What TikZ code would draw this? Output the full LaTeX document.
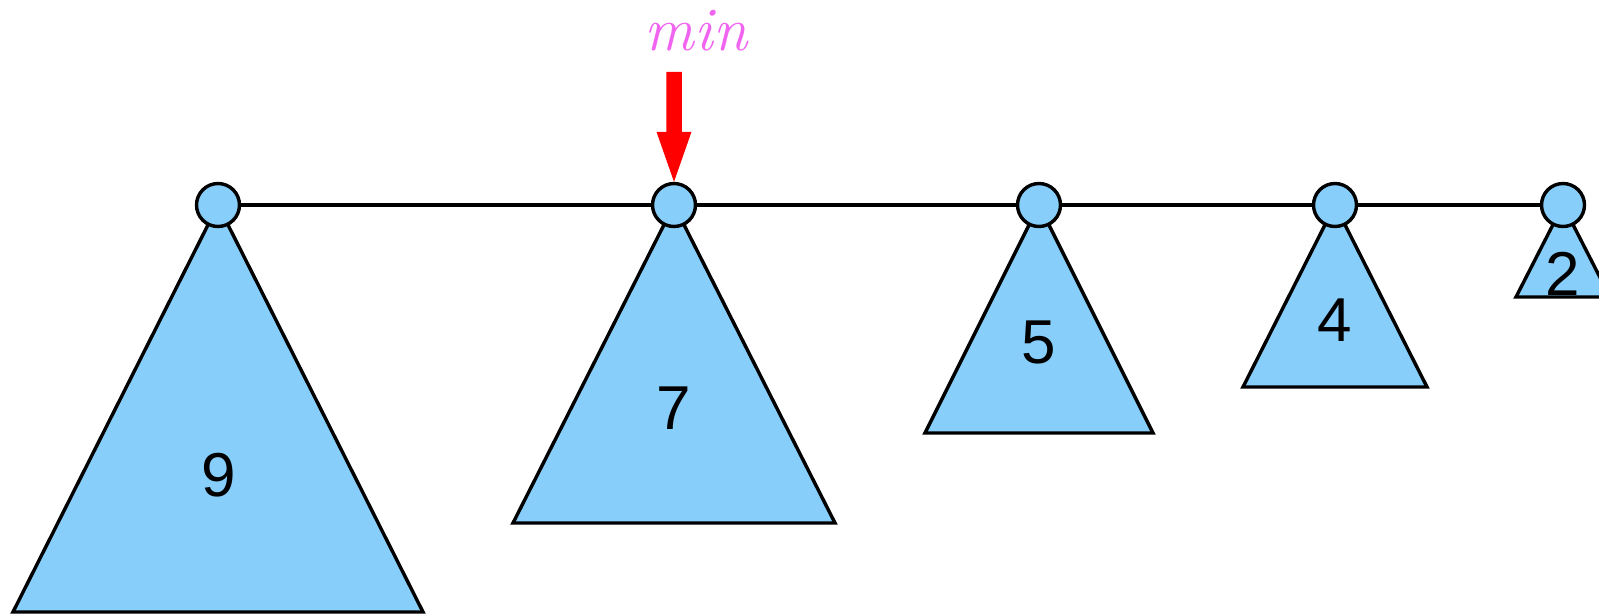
\documentclass[tikz,border=0pt]{standalone}
\usepackage{fontspec}
\newfontfamily\digitfont{Liberation Sans}
\definecolor{treeblue}{RGB}{135,206,250}
\definecolor{minpink}{RGB}{240,100,240}
\begin{document}
\begin{tikzpicture}[x=1pt,y=-1pt,
  rootnode/.style={circle,draw=black,fill=treeblue,line width=3.4pt,minimum size=43pt,inner sep=0pt},
  treetri/.style={draw=black,fill=treeblue,line width=3.4pt,line join=miter},
  rootline/.style={draw=black,line width=3.4pt},
  rankno/.style={inner sep=0pt,font=\digitfont\fontsize{62}{62}\selectfont},
  minarrow/.style={fill=red},
  minlabel/.style={inner sep=0pt,text=minpink,font=\itshape\fontsize{62}{62}\selectfont}]
\useasboundingbox (0,0) rectangle (1599,614);
\clip (0,0) rectangle (1599,614);
% root positions
\coordinate (p9) at (218,205);
\coordinate (p7) at (674,205);
\coordinate (p5) at (1039,205);
\coordinate (p4) at (1335,205);
\coordinate (p2) at (1563,205);
% trees
\path[treetri] (p9) -- ++(-205,407) -- ++(410,0) -- cycle;
\path[treetri] (p7) -- ++(-161,318) -- ++(322,0) -- cycle;
\path[treetri] (p5) -- ++(-114,228) -- ++(228,0) -- cycle;
\path[treetri] (p4) -- ++(-92,182) -- ++(184,0) -- cycle;
\path[treetri] (p2) -- ++(-47,92) -- ++(94,0) -- cycle;
% roots
\node[rootnode] (c9) at (p9) {};
\node[rootnode] (c7) at (p7) {};
\node[rootnode] (c5) at (p5) {};
\node[rootnode] (c4) at (p4) {};
\node[rootnode] (c2) at (p2) {};
\draw[rootline] (c9) -- (c7);
\draw[rootline] (c7) -- (c5);
\draw[rootline] (c5) -- (c4);
\draw[rootline] (c4) -- (c2);
% ranks
\node[rankno] (r9) at (219,475) {9};
\node[rankno] (r7) at (674,408) {7};
\node[rankno] (r5) at (1039,342) {5};
\node[rankno] (r4) at (1335,320) {4};
\node[rankno] (r2) at (1563,274) {2};
% min pointer
\coordinate (tip) at (c7.north);
\fill[minarrow] (tip) -- ++(17.5,-50) -- ++(-9.75,0) -- ++(0,-60) -- ++(-15.5,0) -- ++(0,60) -- ++(-9.75,0) -- cycle;
\node[minlabel,anchor=base] (minl) at (696,50) {min};
\end{tikzpicture}
\end{document}
